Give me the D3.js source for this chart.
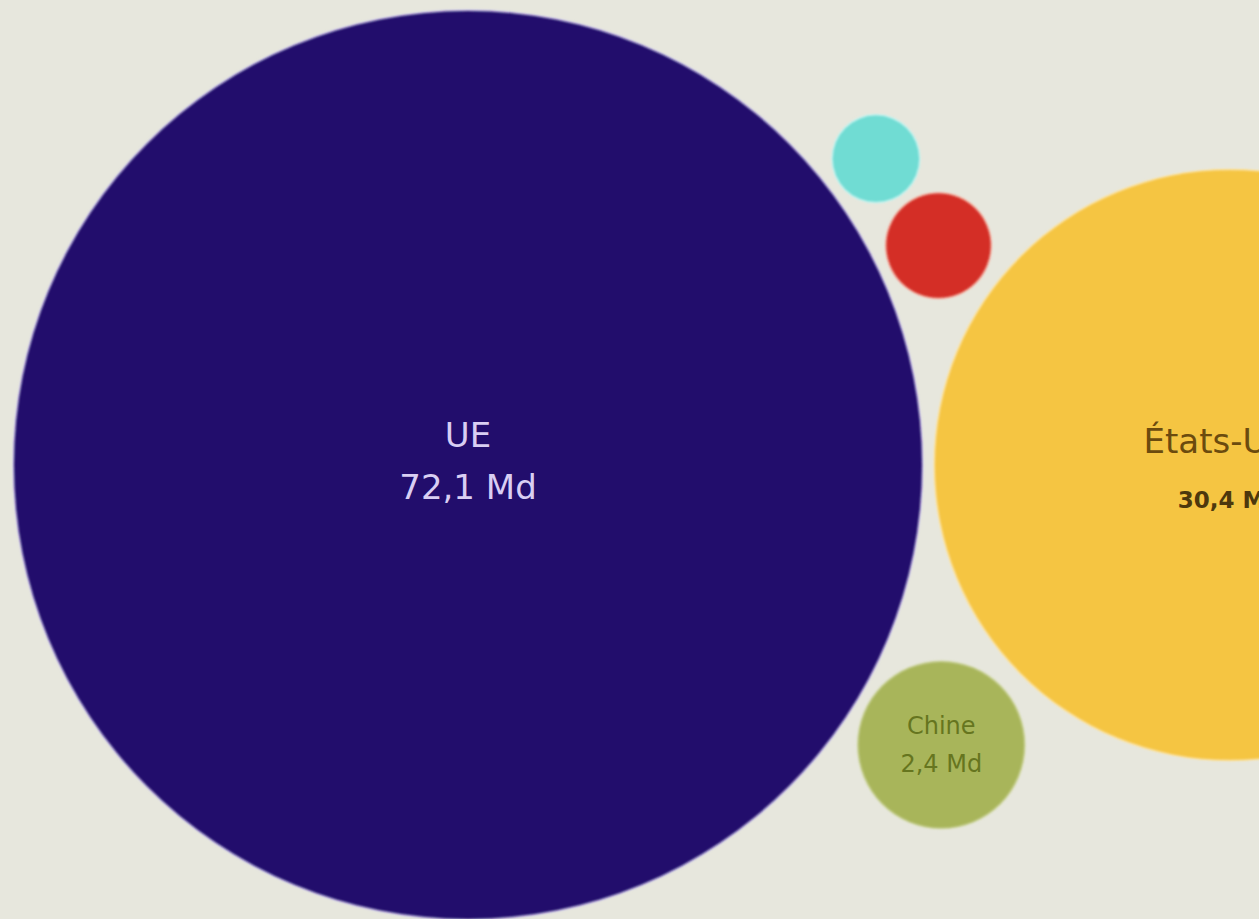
<!DOCTYPE html>
<html lang="fr">
<head>
<meta charset="utf-8">
<title>UE, États-Unis, Chine</title>
<script src="https://cdn.jsdelivr.net/npm/d3@7/dist/d3.min.js"></script>
<style>
  html, body { margin: 0; padding: 0; background: #e7e7dd; overflow: hidden; }
  svg { display: block; }
  text { font-family: "DejaVu Sans", Verdana, sans-serif; }
</style>
</head>
<body>
<svg id="chart"></svg>
<script>
// Partners and their amounts (milliards)
const ids     = ["ue", "usa", "chine", "autre1", "autre2"];
const names   = ["UE", "États-Unis", "Chine", "", ""];
const values  = [72.1, 30.4, 2.4, 0.65, 0.95];
const amounts = ["72,1 Md", "30,4 Md", "2,4 Md", "", ""];

// Layout: every partner sits around the largest bubble, at a bearing (degrees)
const bearings = { usa: 0, chine: 30.6, autre1: -36.9, autre2: -25 };

// Styling per bubble
const fills = { ue: "#22106c", usa: "#f5c542", chine: "#a8b55a", autre1: "#6fdcd3", autre2: "#d42e25" };
const halos = { ue: "#cfc9ea", usa: "#fbe3a6", chine: "#cfd6a3", autre1: "#c6f2ee", autre2: "#f3b9ac" };
const labelStyle = {
  ue:    { name: 34, amount: 34, bold: false, color: "#d9cef3", nameDy: -18, amountDy: 34 },
  usa:   { name: 34, amount: 23, bold: true,  color: "#6b4b0e", amountColor: "#4d380d", nameDy: -12, amountDy: 43 },
  chine: { name: 24, amount: 24, bold: false, color: "#66751f", nameDy: -11, amountDy: 27 }
};

const W = 1259, H = 919;
const marginTop = 11, marginLeft = 14, pad = 13;
const rMax = (H - marginTop) / 2;

const svg = d3.select("#chart").attr("width", W).attr("height", H);
svg.append("rect").attr("width", W).attr("height", H).attr("fill", "#e7e7dd");

const r = d3.scaleSqrt().domain([0, d3.max(values)]).range([0, rMax]);

const data = ids.map((id, i) => ({ id, name: names[i], value: values[i], amount: amounts[i] }));
const hub = data[d3.maxIndex(values)];
hub.x = marginLeft + r(hub.value);
hub.y = marginTop + r(hub.value);

data.forEach(d => {
  if (d === hub) return;
  const a = bearings[d.id] * Math.PI / 180;
  const dist = r(hub.value) + r(d.value) + pad;
  d.x = hub.x + dist * Math.cos(a);
  d.y = hub.y + dist * Math.sin(a);
});

const blur = svg.append("defs").append("filter").attr("id", "soft")
  .attr("x", "-5%").attr("y", "-5%").attr("width", "110%").attr("height", "110%");
blur.append("feGaussianBlur").attr("stdDeviation", 0.8);

const g = svg.append("g").selectAll("g").data(data).join("g");

// soft light rim around each bubble
g.append("circle")
  .attr("cx", d => d.x).attr("cy", d => d.y)
  .attr("r", d => r(d.value) + 1.5)
  .attr("fill", d => halos[d.id])
  .attr("filter", "url(#soft)");

g.append("circle")
  .attr("cx", d => d.x).attr("cy", d => d.y)
  .attr("r", d => r(d.value))
  .attr("fill", d => fills[d.id])
  .attr("filter", "url(#soft)");

const labelled = g.filter(d => d.name !== "");

labelled.append("text")
  .attr("x", d => d.x)
  .attr("y", d => d.y + labelStyle[d.id].nameDy)
  .attr("text-anchor", "middle")
  .attr("font-size", d => labelStyle[d.id].name)
  .attr("fill", d => labelStyle[d.id].color)
  .text(d => d.name);

labelled.append("text")
  .attr("x", d => d.x)
  .attr("y", d => d.y + labelStyle[d.id].amountDy)
  .attr("text-anchor", "middle")
  .attr("font-size", d => labelStyle[d.id].amount)
  .attr("font-weight", d => labelStyle[d.id].bold ? 700 : 400)
  .attr("fill", d => labelStyle[d.id].amountColor || labelStyle[d.id].color)
  .text(d => d.amount);
</script>
</body>
</html>
